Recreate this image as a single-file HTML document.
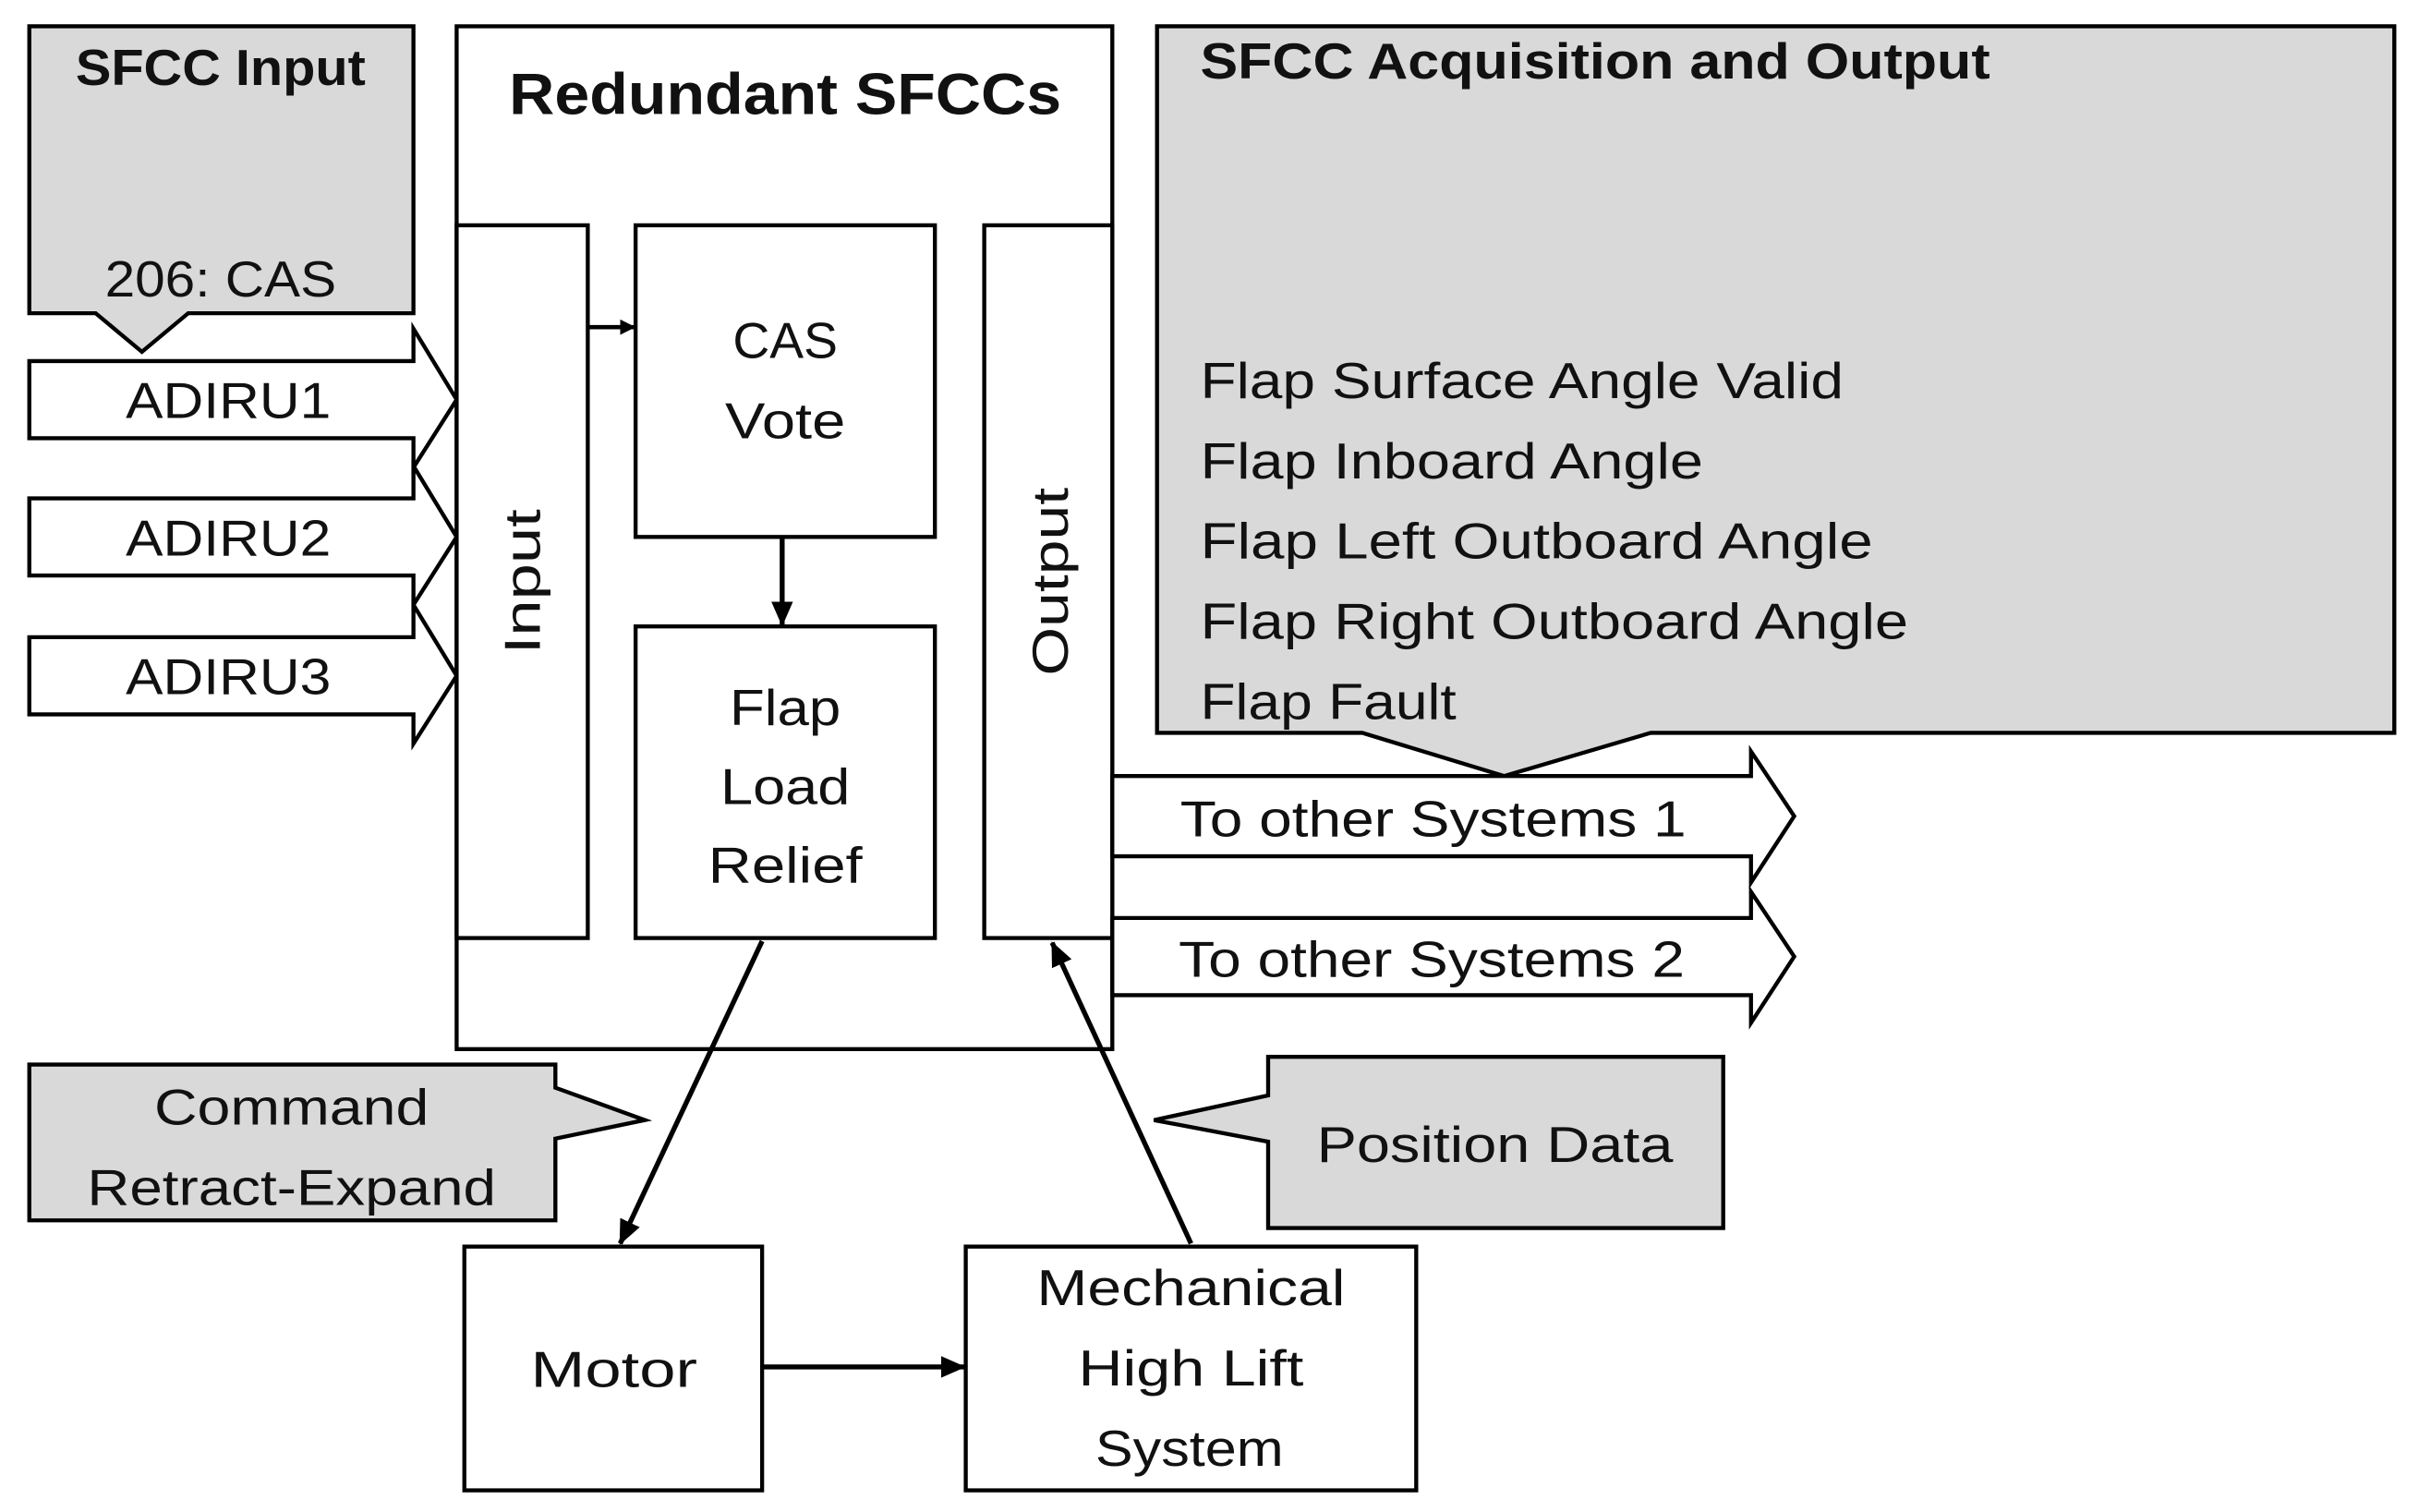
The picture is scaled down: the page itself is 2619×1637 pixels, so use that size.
<!DOCTYPE html>
<html><head><meta charset="utf-8"><style>html,body{margin:0;padding:0;background:#fff}svg{display:block}</style></head>
<body>
<svg width="2619" height="1637" viewBox="0 0 1568 980" xmlns="http://www.w3.org/2000/svg" font-family="Liberation Sans, sans-serif">
<defs><marker id="ah" markerWidth="10" markerHeight="10" refX="9" refY="5" orient="auto" markerUnits="userSpaceOnUse" viewBox="0 0 10 10"><path d="M0,0 L10,5 L0,10 z" fill="#000"/></marker>
<marker id="ah2" markerWidth="16" markerHeight="16" refX="15" refY="8" orient="auto" markerUnits="userSpaceOnUse" viewBox="0 0 16 16"><path d="M0,1 L16,8 L0,15 z" fill="#000"/></marker></defs>
<g stroke="#000" stroke-width="2.6" stroke-linejoin="miter">
<!-- SFCC input callout -->
<path d="M19,17 H268 V203 H122 L92,228 L62,203 H19 Z" fill="#d9d9d9"/>
<!-- SFCC acquisition callout -->
<path d="M750,17 H1552 V475 H1070 L975,503 L883,475 H750 Z" fill="#d9d9d9"/>
<!-- ADIRU arrows -->
<path d="M19,234 H268 V213 L296,259 L268,303 V284 H19 Z" fill="#fff"/>
<path d="M19,323 H268 V302 L296,348 L268,392 V373 H19 Z" fill="#fff"/>
<path d="M19,413 H268 V392 L296,438 L268,482 V463 H19 Z" fill="#fff"/>
<!-- Redundant box -->
<rect x="296" y="17" width="425" height="663" fill="#fff"/>
<rect x="296" y="146" width="85" height="462" fill="#fff"/>
<rect x="412" y="146" width="194" height="202" fill="#fff"/>
<rect x="412" y="406" width="194" height="202" fill="#fff"/>
<rect x="638" y="146" width="83" height="462" fill="#fff"/>
<!-- Output arrows -->
<path d="M721,503 H1135 V487 L1163,529 L1135,572 V555 H721 Z" fill="#fff"/>
<path d="M721,595 H1135 V578 L1163,620 L1135,663 V645 H721 Z" fill="#fff"/>
<!-- Command callout -->
<path d="M19,690 H360 V705 L418,726 L360,738 V791 H19 Z" fill="#d9d9d9"/>
<!-- Position data callout -->
<path d="M822,685 H1117 V796 H822 V740 L748,726 L822,710 Z" fill="#d9d9d9"/>
<!-- Motor, Mech -->
<rect x="301" y="808" width="193" height="158" fill="#fff"/>
<rect x="626" y="808" width="292" height="158" fill="#fff"/>
<!-- connectors -->
<line x1="381" y1="212" x2="411" y2="212" marker-end="url(#ah)" stroke-width="2.8"/>
<line x1="507" y1="348" x2="507" y2="405" marker-end="url(#ah2)" stroke-width="3.2"/>
<line x1="494" y1="610" x2="402" y2="806" marker-end="url(#ah2)" stroke-width="3.2"/>
<line x1="494" y1="886" x2="625" y2="886" marker-end="url(#ah2)" stroke-width="3.2"/>
<line x1="772" y1="806" x2="682" y2="611" marker-end="url(#ah2)" stroke-width="3.2"/>
</g>
<g fill="#111" font-size="33">
<text x="143" y="55" text-anchor="middle" font-weight="bold" textLength="188" lengthAdjust="spacingAndGlyphs">SFCC Input</text>
<text x="143" y="192" text-anchor="middle" textLength="150" lengthAdjust="spacingAndGlyphs">206: CAS</text>
<text x="148" y="271" text-anchor="middle" textLength="133" lengthAdjust="spacingAndGlyphs">ADIRU1</text>
<text x="148" y="360" text-anchor="middle" textLength="133" lengthAdjust="spacingAndGlyphs">ADIRU2</text>
<text x="148" y="450" text-anchor="middle" textLength="133" lengthAdjust="spacingAndGlyphs">ADIRU3</text>
<text x="509" y="74" text-anchor="middle" font-weight="bold" font-size="38" textLength="358" lengthAdjust="spacingAndGlyphs">Redundant SFCCs</text>
<text x="509" y="232" text-anchor="middle" textLength="68" lengthAdjust="spacingAndGlyphs">CAS</text>
<text x="509" y="284" text-anchor="middle" textLength="78" lengthAdjust="spacingAndGlyphs">Vote</text>
<text x="509" y="470" text-anchor="middle" textLength="72" lengthAdjust="spacingAndGlyphs">Flap</text>
<text x="509" y="521" text-anchor="middle" textLength="84" lengthAdjust="spacingAndGlyphs">Load</text>
<text x="509" y="572" text-anchor="middle" textLength="100" lengthAdjust="spacingAndGlyphs">Relief</text>
<text transform="translate(350,377) rotate(-90)" text-anchor="middle" textLength="94" lengthAdjust="spacingAndGlyphs">Input</text>
<text transform="translate(692,377) rotate(-90)" text-anchor="middle" textLength="122" lengthAdjust="spacingAndGlyphs">Output</text>
<text x="778" y="51" font-weight="bold" textLength="512" lengthAdjust="spacingAndGlyphs">SFCC Acquisition  and  Output</text>
<text x="778" y="258" textLength="417" lengthAdjust="spacingAndGlyphs">Flap Surface Angle Valid</text>
<text x="778" y="310" textLength="326" lengthAdjust="spacingAndGlyphs">Flap Inboard Angle</text>
<text x="778" y="362" textLength="436" lengthAdjust="spacingAndGlyphs">Flap Left Outboard Angle</text>
<text x="778" y="414" textLength="459" lengthAdjust="spacingAndGlyphs">Flap Right Outboard Angle</text>
<text x="778" y="466" textLength="166" lengthAdjust="spacingAndGlyphs">Flap Fault</text>
<text x="765" y="542" textLength="328" lengthAdjust="spacingAndGlyphs">To other Systems 1</text>
<text x="764" y="633" textLength="328" lengthAdjust="spacingAndGlyphs">To other Systems 2</text>
<text x="189" y="729" text-anchor="middle" textLength="178" lengthAdjust="spacingAndGlyphs">Command</text>
<text x="189" y="781" text-anchor="middle" textLength="265" lengthAdjust="spacingAndGlyphs">Retract-Expand</text>
<text x="969" y="753" text-anchor="middle" textLength="231" lengthAdjust="spacingAndGlyphs">Position Data</text>
<text x="398" y="899" text-anchor="middle" textLength="108" lengthAdjust="spacingAndGlyphs">Motor</text>
<text x="772" y="846" text-anchor="middle" textLength="200" lengthAdjust="spacingAndGlyphs">Mechanical</text>
<text x="772" y="898" text-anchor="middle" textLength="146" lengthAdjust="spacingAndGlyphs">High Lift</text>
<text x="771" y="950" text-anchor="middle" textLength="122" lengthAdjust="spacingAndGlyphs">System</text>
</g>
</svg>
</body></html>
